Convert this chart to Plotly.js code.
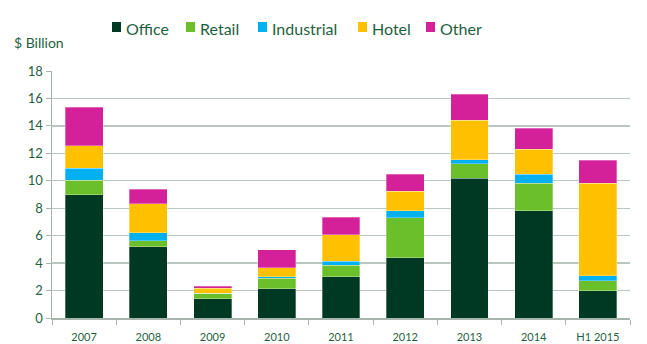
<!DOCTYPE html>
<html>
<head>
<meta charset="utf-8">
<script src="https://cdn.plot.ly/plotly-3.0.1.min.js"></script>
<style>html,body{margin:0;padding:0;background:#fff;}#chart{width:647px;height:344px;}</style>
</head>
<body>
<div id="chart"></div>
<script>
var categories = ["2007","2008","2009","2010","2011","2012","2013","2014","H1 2015"];
var office     = [9.0, 5.18, 1.40, 2.13, 3.00, 4.38, 10.19, 7.80, 2.00];
var retail     = [1.05, 0.44, 0.39, 0.78, 0.83, 2.93, 1.04, 2.03, 0.70];
var industrial = [0.87, 0.58, 0.03, 0.09, 0.29, 0.49, 0.30, 0.65, 0.37];
var hotel      = [1.65, 2.13, 0.34, 0.68, 1.96, 1.45, 2.88, 1.82, 6.75];
var other      = [2.78, 1.06, 0.15, 1.28, 1.28, 1.23, 1.89, 1.53, 1.67];
var yTicks = [0,2,4,6,8,10,12,14,16,18];

var seriesNames = ["Office","Retail","Industrial","Hotel","Other"];
var seriesData = [office, retail, industrial, hotel, other];
var seriesColors = ["#003923","#6abf2a","#00b0f0","#ffc000","#d4219a"];
var textColor = "#1f5f42";

var W = 647, H = 344, M = {l:52, r:17, t:71, b:26};
var PW = W - M.l - M.r, PH = H - M.t - M.b;
function px(x){ return (x - M.l) / PW; }
function py(y){ return (H - M.b - y) / PH; }

var traces = seriesNames.map(function(n,i){
  return {type:"bar", name:n, x:categories, y:seriesData[i],
    marker:{color:seriesColors[i], line:{color:"rgba(255,255,255,0.6)", width:0.5}},
    hoverinfo:"skip", showlegend:false};
});

// custom legend (compact spacing like the original)
var legendSquareX = [112, 186, 258, 358, 426];
var shapes = [], annotations = [];
seriesNames.forEach(function(n,i){
  var x0 = legendSquareX[i];
  shapes.push({type:"rect", xref:"paper", yref:"paper", x0:px(x0), x1:px(x0+9), y0:py(32), y1:py(22),
    fillcolor:seriesColors[i], line:{width:0}});
  annotations.push({text:n, xref:"paper", yref:"paper", x:px(x0+13), y:py(28), xanchor:"left", yanchor:"middle",
    showarrow:false, font:{size:16, color:textColor}, xshift:-1});
});
annotations.push({text:"$ Billion", xref:"paper", yref:"paper", x:px(12), y:py(42.5),
  xanchor:"left", yanchor:"middle", showarrow:false, font:{size:14, color:textColor}});

var layout = {
  width:W, height:H,
  margin:M,
  barmode:"stack", bargap:0.41,
  paper_bgcolor:"#fff", plot_bgcolor:"#fff",
  font:{family:"Lato, 'Open Sans', sans-serif", color:textColor},
  showlegend:false,
  xaxis:{type:"category", tickson:"boundaries", ticks:"outside", ticklen:5, tickcolor:"#a7b5ad",
    showline:true, linecolor:"#a7b5ad", linewidth:1.5, showgrid:false, ticklabelstandoff:8,
    tickfont:{size:11, color:textColor}, fixedrange:true},
  yaxis:{range:[0,18], tickvals:yTicks, ticks:"outside", ticklen:5, tickcolor:"#a7b5ad",
    showline:true, linecolor:"#a7b5ad", linewidth:1.5, gridcolor:"#b9c7bf", gridwidth:1.3,
    zeroline:false, tickfont:{size:13, color:textColor}, fixedrange:true},
  shapes:shapes,
  annotations:annotations
};
Plotly.newPlot("chart", traces, layout, {displayModeBar:false, staticPlot:true});
</script>
</body>
</html>
